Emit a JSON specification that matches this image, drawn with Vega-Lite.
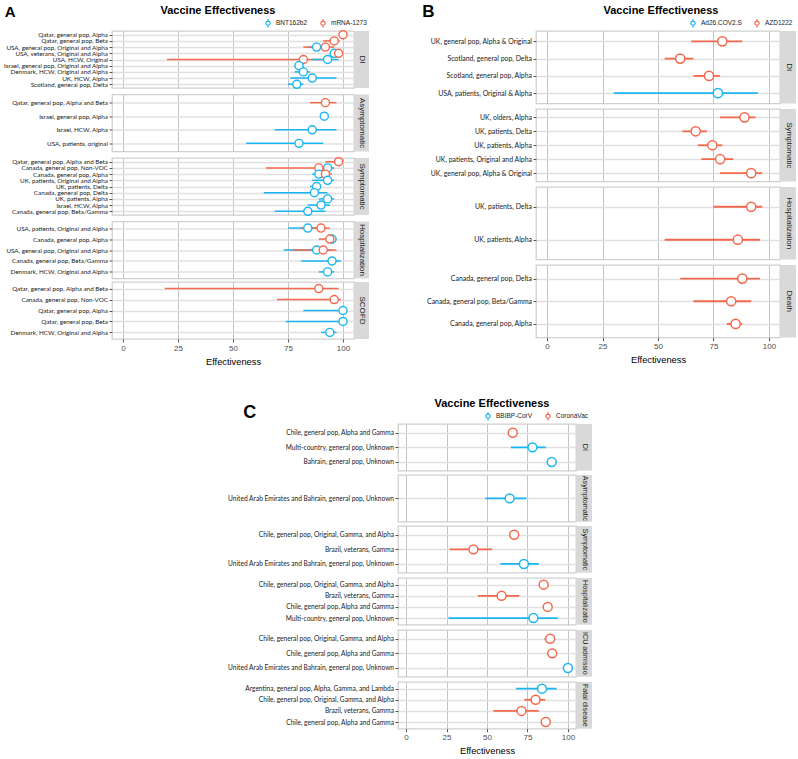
{
"$schema": "https://vega.github.io/schema/vega-lite/v6.json",
"background": "white",
"padding": {"left": 2, "top": 2, "right": 0, "bottom": 0},
"config": {
  "view": {"stroke": "#d0d0d0", "strokeWidth": 1.3},
  "axis": {"labelFont": "Liberation Sans", "titleFont": "Liberation Sans"},
  "title": {"font": "Liberation Sans", "fontSize": 11, "fontWeight": "bold", "color": "#000000"}
},
"datasets": {
  "A": [
    {"outcome": "DI", "label": "Qatar, general pop, Alpha", "vaccine": "mRNA-1273", "ve": 100, "lo": 99.5, "hi": 100},
    {"outcome": "DI", "label": "Qatar, general pop, Beta", "vaccine": "mRNA-1273", "ve": 96, "lo": 91, "hi": 98.5},
    {"outcome": "DI", "label": "USA, general pop, Original and Alpha", "vaccine": "BNT162b2", "ve": 88, "lo": 84, "hi": 91},
    {"outcome": "DI", "label": "USA, general pop, Original and Alpha", "vaccine": "mRNA-1273", "ve": 92, "lo": 82, "hi": 96},
    {"outcome": "DI", "label": "USA, veterans, Original and Alpha", "vaccine": "BNT162b2", "ve": 96, "lo": 95, "hi": 97},
    {"outcome": "DI", "label": "USA, veterans, Original and Alpha", "vaccine": "mRNA-1273", "ve": 98, "lo": 97, "hi": 99},
    {"outcome": "DI", "label": "USA, HCW, Original", "vaccine": "mRNA-1273", "ve": 82, "lo": 20, "hi": 95},
    {"outcome": "DI", "label": "USA, HCW, Original", "vaccine": "BNT162b2", "ve": 93, "lo": 86, "hi": 98},
    {"outcome": "DI", "label": "Israel, general pop, Original and Alpha", "vaccine": "BNT162b2", "ve": 80, "lo": 78, "hi": 82},
    {"outcome": "DI", "label": "Denmark, HCW, Original and Alpha", "vaccine": "BNT162b2", "ve": 82, "lo": 78, "hi": 85},
    {"outcome": "DI", "label": "UK, HCW, Alpha", "vaccine": "BNT162b2", "ve": 86, "lo": 76, "hi": 97},
    {"outcome": "DI", "label": "Scotland, general pop, Delta", "vaccine": "BNT162b2", "ve": 79, "lo": 75, "hi": 82},
    {"outcome": "Asymptomatic", "label": "Qatar, general pop, Alpha and Beta", "vaccine": "mRNA-1273", "ve": 92, "lo": 85, "hi": 97},
    {"outcome": "Asymptomatic", "label": "Israel, general pop, Alpha", "vaccine": "BNT162b2", "ve": 91.5, "lo": 90.5, "hi": 92.5},
    {"outcome": "Asymptomatic", "label": "Israel, HCW, Alpha", "vaccine": "BNT162b2", "ve": 86, "lo": 69, "hi": 97},
    {"outcome": "Asymptomatic", "label": "USA, patients, original", "vaccine": "BNT162b2", "ve": 80, "lo": 56, "hi": 91},
    {"outcome": "Symptomatic", "label": "Qatar, general pop, Alpha and Beta", "vaccine": "mRNA-1273", "ve": 98, "lo": 92, "hi": 99.5},
    {"outcome": "Symptomatic", "label": "Canada, general pop, Non-VOC", "vaccine": "mRNA-1273", "ve": 89, "lo": 65, "hi": 96},
    {"outcome": "Symptomatic", "label": "Canada, general pop, Non-VOC", "vaccine": "BNT162b2", "ve": 93, "lo": 90, "hi": 95.5},
    {"outcome": "Symptomatic", "label": "Canada, general pop, Alpha", "vaccine": "BNT162b2", "ve": 89, "lo": 86, "hi": 91},
    {"outcome": "Symptomatic", "label": "Canada, general pop, Alpha", "vaccine": "mRNA-1273", "ve": 92, "lo": 87, "hi": 95},
    {"outcome": "Symptomatic", "label": "UK, patients, Original and Alpha", "vaccine": "BNT162b2", "ve": 93, "lo": 86, "hi": 96},
    {"outcome": "Symptomatic", "label": "UK, patients, Delta", "vaccine": "BNT162b2", "ve": 88, "lo": 85, "hi": 90},
    {"outcome": "Symptomatic", "label": "Canada, general pop, Delta", "vaccine": "BNT162b2", "ve": 87, "lo": 64, "hi": 93},
    {"outcome": "Symptomatic", "label": "UK, patients, Alpha", "vaccine": "BNT162b2", "ve": 93, "lo": 89, "hi": 96},
    {"outcome": "Symptomatic", "label": "Israel, HCW, Alpha", "vaccine": "BNT162b2", "ve": 90, "lo": 84, "hi": 94},
    {"outcome": "Symptomatic", "label": "Canada, general pop, Beta/Gamma", "vaccine": "BNT162b2", "ve": 84, "lo": 69, "hi": 92},
    {"outcome": "Hospitalization", "label": "USA, patients, Original and Alpha", "vaccine": "BNT162b2", "ve": 84, "lo": 75, "hi": 90},
    {"outcome": "Hospitalization", "label": "USA, patients, Original and Alpha", "vaccine": "mRNA-1273", "ve": 90, "lo": 81, "hi": 94},
    {"outcome": "Hospitalization", "label": "Canada, general pop, Alpha", "vaccine": "BNT162b2", "ve": 95, "lo": 92, "hi": 97},
    {"outcome": "Hospitalization", "label": "Canada, general pop, Alpha", "vaccine": "mRNA-1273", "ve": 94, "lo": 89, "hi": 97},
    {"outcome": "Hospitalization", "label": "USA, general pop, Original and Alpha", "vaccine": "BNT162b2", "ve": 88, "lo": 73, "hi": 95},
    {"outcome": "Hospitalization", "label": "USA, general pop, Original and Alpha", "vaccine": "mRNA-1273", "ve": 91, "lo": 77, "hi": 97},
    {"outcome": "Hospitalization", "label": "Canada, general pop, Beta/Gamma", "vaccine": "BNT162b2", "ve": 95, "lo": 81, "hi": 99},
    {"outcome": "Hospitalization", "label": "Denmark, HCW, Original and Alpha", "vaccine": "BNT162b2", "ve": 93, "lo": 89, "hi": 96},
    {"outcome": "SCOFD", "label": "Qatar, general pop, Alpha and Beta", "vaccine": "mRNA-1273", "ve": 89, "lo": 19, "hi": 98},
    {"outcome": "SCOFD", "label": "Canada, general pop, Non-VOC", "vaccine": "mRNA-1273", "ve": 96, "lo": 70, "hi": 99},
    {"outcome": "SCOFD", "label": "Qatar, general pop, Alpha", "vaccine": "BNT162b2", "ve": 100, "lo": 82, "hi": 100},
    {"outcome": "SCOFD", "label": "Qatar, general pop, Beta", "vaccine": "BNT162b2", "ve": 100, "lo": 74, "hi": 100},
    {"outcome": "SCOFD", "label": "Denmark, HCW, Original and Alpha", "vaccine": "BNT162b2", "ve": 94, "lo": 90, "hi": 97}
  ],
  "B": [
    {"outcome": "DI", "label": "UK, general pop, Alpha & Original", "vaccine": "AZD1222", "ve": 79, "lo": 65, "hi": 88},
    {"outcome": "DI", "label": "Scotland, general pop, Delta", "vaccine": "AZD1222", "ve": 60, "lo": 53, "hi": 66},
    {"outcome": "DI", "label": "Scotland, general pop, Alpha", "vaccine": "AZD1222", "ve": 73, "lo": 66, "hi": 78},
    {"outcome": "DI", "label": "USA, patients, Original & Alpha", "vaccine": "Ad26.COV2.S", "ve": 77, "lo": 30, "hi": 95},
    {"outcome": "Symptomatic", "label": "UK, olders, Alpha", "vaccine": "AZD1222", "ve": 89, "lo": 78, "hi": 94},
    {"outcome": "Symptomatic", "label": "UK, patients, Delta", "vaccine": "AZD1222", "ve": 67, "lo": 61, "hi": 72},
    {"outcome": "Symptomatic", "label": "UK, patients, Alpha", "vaccine": "AZD1222", "ve": 74.5, "lo": 68, "hi": 79},
    {"outcome": "Symptomatic", "label": "UK, patients, Original and Alpha", "vaccine": "AZD1222", "ve": 78, "lo": 69.5, "hi": 84},
    {"outcome": "Symptomatic", "label": "UK, general pop, Alpha & Original", "vaccine": "AZD1222", "ve": 92, "lo": 78, "hi": 97},
    {"outcome": "Hospitalization", "label": "UK, patients, Delta", "vaccine": "AZD1222", "ve": 92, "lo": 75, "hi": 97},
    {"outcome": "Hospitalization", "label": "UK, patients, Alpha", "vaccine": "AZD1222", "ve": 86, "lo": 53, "hi": 96},
    {"outcome": "Death", "label": "Canada, general pop, Delta", "vaccine": "AZD1222", "ve": 88, "lo": 60, "hi": 96},
    {"outcome": "Death", "label": "Canada, general pop, Beta/Gamma", "vaccine": "AZD1222", "ve": 83, "lo": 66, "hi": 92},
    {"outcome": "Death", "label": "Canada, general pop, Alpha", "vaccine": "AZD1222", "ve": 85, "lo": 81, "hi": 88}
  ],
  "C": [
    {"outcome": "DI", "label": "Chile, general pop, Alpha and Gamma", "vaccine": "CoronaVac", "ve": 65.9, "lo": 65.2, "hi": 66.6},
    {"outcome": "DI", "label": "Multi-country, general pop, Unknown", "vaccine": "BBIBP-CorV", "ve": 78.1, "lo": 64.8, "hi": 86.3},
    {"outcome": "DI", "label": "Bahrain, general pop, Unknown", "vaccine": "BBIBP-CorV", "ve": 90, "lo": 88.9, "hi": 91},
    {"outcome": "Asymptomatic", "label": "United Arab Emirates and Bahrain, general pop, Unknown", "vaccine": "BBIBP-CorV", "ve": 64, "lo": 49, "hi": 74.4},
    {"outcome": "Symptomatic", "label": "Chile, general pop, Original, Gamma, and Alpha", "vaccine": "CoronaVac", "ve": 66.8, "lo": 65.4, "hi": 68.1},
    {"outcome": "Symptomatic", "label": "Brazil, veterans, Gamma", "vaccine": "CoronaVac", "ve": 41.6, "lo": 26.9, "hi": 53.2},
    {"outcome": "Symptomatic", "label": "United Arab Emirates and Bahrain, general pop, Unknown", "vaccine": "BBIBP-CorV", "ve": 72.8, "lo": 58.3, "hi": 82},
    {"outcome": "Hospitalization", "label": "Chile, general pop, Original, Gamma, and Alpha", "vaccine": "CoronaVac", "ve": 85, "lo": 84, "hi": 86},
    {"outcome": "Hospitalization", "label": "Brazil, veterans, Gamma", "vaccine": "CoronaVac", "ve": 59, "lo": 44.5, "hi": 70},
    {"outcome": "Hospitalization", "label": "Chile, general pop, Alpha and Gamma", "vaccine": "CoronaVac", "ve": 87.5, "lo": 86.7, "hi": 88.2},
    {"outcome": "Hospitalization", "label": "Multi-country, general pop, Unknown", "vaccine": "BBIBP-CorV", "ve": 78.7, "lo": 26.2, "hi": 93.7},
    {"outcome": "ICU admission", "label": "Chile, general pop, Original, Gamma, and Alpha", "vaccine": "CoronaVac", "ve": 89, "lo": 85.5, "hi": 91},
    {"outcome": "ICU admission", "label": "Chile, general pop, Alpha and Gamma", "vaccine": "CoronaVac", "ve": 90.3, "lo": 89.1, "hi": 91.4},
    {"outcome": "ICU admission", "label": "United Arab Emirates and Bahrain, general pop, Unknown", "vaccine": "BBIBP-CorV", "ve": 100, "lo": 100, "hi": 100},
    {"outcome": "Fatal disease", "label": "Argentina, general pop, Alpha, Gamma, and Lambda", "vaccine": "BBIBP-CorV", "ve": 84, "lo": 68, "hi": 93},
    {"outcome": "Fatal disease", "label": "Chile, general pop, Original, Gamma, and Alpha", "vaccine": "CoronaVac", "ve": 80, "lo": 73, "hi": 86},
    {"outcome": "Fatal disease", "label": "Brazil, veterans, Gamma", "vaccine": "CoronaVac", "ve": 71.3, "lo": 54, "hi": 82},
    {"outcome": "Fatal disease", "label": "Chile, general pop, Alpha and Gamma", "vaccine": "CoronaVac", "ve": 86.3, "lo": 85.1, "hi": 87.3}
  ]
},
"resolve": {"scale": {"color": "independent"}, "legend": {"color": "independent"}},
"spacing": 30,
"vconcat": [
{
  "spacing": 53,
  "resolve": {"scale": {"color": "independent"}, "legend": {"color": "independent"}},
  "hconcat": [
  {
    "title": {"text": "A", "anchor": "start", "frame": "bounds", "fontSize": 15, "offset": -16, "dx": 2},
    "spacing": 1.5,
    "resolve": {"scale": {"color": "independent"}, "legend": {"color": "independent"}},
    "vconcat": [
      {"spacing": 1, "bounds": "flush", "resolve": {"scale": {"color": "independent"}, "legend": {"color": "independent"}}, "hconcat": [
        {"width": 242, "height": 57, "data": {"name": "A"}, "transform": [{"filter": "datum.outcome === 'DI'"}],
         "title": {"text": "Vaccine Effectiveness", "anchor": "middle", "frame": "group", "offset": 2, "dx": -15},
         "encoding": {
           "y": {"field": "label", "type": "nominal", "sort": null, "scale": {"type": "point", "padding": 0.6}, "axis": {"title": null, "domain": false, "tickSize": 3, "tickColor": "#555555", "grid": true, "gridColor": "#e0e0e0", "gridWidth": 1.5, "labelFont": "Lato", "labelFontSize": 6.3, "labelColor": "#1a1a1a", "labelPadding": 1.5, "labelOverlap": false, "labelBound": false, "minExtent": 108, "maxExtent": 108}},
           "color": {"field": "vaccine", "type": "nominal", "scale": {"domain": ["BNT162b2", "mRNA-1273"], "range": ["#1BB5F0", "#F4694D"]}, "legend": {"orient": "top-right", "offset": -13, "direction": "horizontal", "title": null, "symbolType": "M0,-1V-0.5M0,0.5V1M-0.5,0A0.5,0.5,0,1,0,0.5,0A0.5,0.5,0,1,0,-0.5,0Z", "symbolSize": 70, "symbolStrokeWidth": 1.2, "symbolFillColor": "white", "labelFontSize": 6.5, "labelFont": "Liberation Sans", "labelColor": "#1a1a1a", "columnPadding": 10, "padding": 0, "labelOffset": 3}}
         },
         "layer": [
           {"mark": {"type": "rule", "strokeWidth": 1.5}, "encoding": {"x": {"field": "lo", "type": "quantitative", "scale": {"domain": [-5, 105], "nice": false, "zero": false}, "axis": {"values": [0,12.5,25,37.5,50,62.5,75,87.5,100], "labels": false, "ticks": false, "domain": false, "title": null, "grid": true, "gridWidth": 1, "gridColor": {"condition": {"test": "datum.value % 25 === 0", "value": "#c4c4c4"}, "value": "#e6e6e6"}}}, "x2": {"field": "hi"}}},
           {"mark": {"type": "point", "shape": "circle", "filled": false, "fill": "white", "fillOpacity": 1, "opacity": 1, "strokeWidth": 1.4, "size": 65}, "encoding": {"x": {"field": "ve", "type": "quantitative", "scale": {"domain": [-5, 105], "nice": false, "zero": false}}}}
         ]},
        {"width": 14, "height": 57, "view": {"fill": "#d9d9d9", "stroke": null}, "data": {"values": [{"strip": "DI"}]}, "mark": {"type": "text", "angle": 90, "font": "Liberation Sans", "fontSize": 8, "color": "#1a1a1a", "limit": 56, "ellipsis": " "}, "encoding": {"text": {"field": "strip", "type": "nominal"}}}
      ]},
      {"spacing": 1, "bounds": "flush", "resolve": {"scale": {"color": "independent"}, "legend": {"color": "independent"}}, "hconcat": [
        {"width": 242, "height": 57, "data": {"name": "A"}, "transform": [{"filter": "datum.outcome === 'Asymptomatic'"}],
         "encoding": {
           "y": {"field": "label", "type": "nominal", "sort": null, "scale": {"type": "point", "padding": 0.6}, "axis": {"title": null, "domain": false, "tickSize": 3, "tickColor": "#555555", "grid": true, "gridColor": "#e0e0e0", "gridWidth": 1.5, "labelFont": "Lato", "labelFontSize": 6.3, "labelColor": "#1a1a1a", "labelPadding": 1.5, "labelOverlap": false, "labelBound": false, "minExtent": 108, "maxExtent": 108}},
           "color": {"field": "vaccine", "type": "nominal", "scale": {"domain": ["BNT162b2", "mRNA-1273"], "range": ["#1BB5F0", "#F4694D"]}, "legend": null}
         },
         "layer": [
           {"mark": {"type": "rule", "strokeWidth": 1.5}, "encoding": {"x": {"field": "lo", "type": "quantitative", "scale": {"domain": [-5, 105], "nice": false, "zero": false}, "axis": {"values": [0,12.5,25,37.5,50,62.5,75,87.5,100], "labels": false, "ticks": false, "domain": false, "title": null, "grid": true, "gridWidth": 1, "gridColor": {"condition": {"test": "datum.value % 25 === 0", "value": "#c4c4c4"}, "value": "#e6e6e6"}}}, "x2": {"field": "hi"}}},
           {"mark": {"type": "point", "shape": "circle", "filled": false, "fill": "white", "fillOpacity": 1, "opacity": 1, "strokeWidth": 1.4, "size": 65}, "encoding": {"x": {"field": "ve", "type": "quantitative", "scale": {"domain": [-5, 105], "nice": false, "zero": false}}}}
         ]},
        {"width": 14, "height": 57, "view": {"fill": "#d9d9d9", "stroke": null}, "data": {"values": [{"strip": "Asymptomatic"}]}, "mark": {"type": "text", "angle": 90, "font": "Liberation Sans", "fontSize": 8, "color": "#1a1a1a", "limit": 56, "ellipsis": " "}, "encoding": {"text": {"field": "strip", "type": "nominal"}}}
      ]},
      {"spacing": 1, "bounds": "flush", "resolve": {"scale": {"color": "independent"}, "legend": {"color": "independent"}}, "hconcat": [
        {"width": 242, "height": 57, "data": {"name": "A"}, "transform": [{"filter": "datum.outcome === 'Symptomatic'"}],
         "encoding": {
           "y": {"field": "label", "type": "nominal", "sort": null, "scale": {"type": "point", "padding": 0.6}, "axis": {"title": null, "domain": false, "tickSize": 3, "tickColor": "#555555", "grid": true, "gridColor": "#e0e0e0", "gridWidth": 1.5, "labelFont": "Lato", "labelFontSize": 6.3, "labelColor": "#1a1a1a", "labelPadding": 1.5, "labelOverlap": false, "labelBound": false, "minExtent": 108, "maxExtent": 108}},
           "color": {"field": "vaccine", "type": "nominal", "scale": {"domain": ["BNT162b2", "mRNA-1273"], "range": ["#1BB5F0", "#F4694D"]}, "legend": null}
         },
         "layer": [
           {"mark": {"type": "rule", "strokeWidth": 1.5}, "encoding": {"x": {"field": "lo", "type": "quantitative", "scale": {"domain": [-5, 105], "nice": false, "zero": false}, "axis": {"values": [0,12.5,25,37.5,50,62.5,75,87.5,100], "labels": false, "ticks": false, "domain": false, "title": null, "grid": true, "gridWidth": 1, "gridColor": {"condition": {"test": "datum.value % 25 === 0", "value": "#c4c4c4"}, "value": "#e6e6e6"}}}, "x2": {"field": "hi"}}},
           {"mark": {"type": "point", "shape": "circle", "filled": false, "fill": "white", "fillOpacity": 1, "opacity": 1, "strokeWidth": 1.4, "size": 65}, "encoding": {"x": {"field": "ve", "type": "quantitative", "scale": {"domain": [-5, 105], "nice": false, "zero": false}}}}
         ]},
        {"width": 14, "height": 57, "view": {"fill": "#d9d9d9", "stroke": null}, "data": {"values": [{"strip": "Symptomatic"}]}, "mark": {"type": "text", "angle": 90, "font": "Liberation Sans", "fontSize": 8, "color": "#1a1a1a", "limit": 56, "ellipsis": " "}, "encoding": {"text": {"field": "strip", "type": "nominal"}}}
      ]},
      {"spacing": 1, "bounds": "flush", "resolve": {"scale": {"color": "independent"}, "legend": {"color": "independent"}}, "hconcat": [
        {"width": 242, "height": 57, "data": {"name": "A"}, "transform": [{"filter": "datum.outcome === 'Hospitalization'"}],
         "encoding": {
           "y": {"field": "label", "type": "nominal", "sort": null, "scale": {"type": "point", "padding": 0.6}, "axis": {"title": null, "domain": false, "tickSize": 3, "tickColor": "#555555", "grid": true, "gridColor": "#e0e0e0", "gridWidth": 1.5, "labelFont": "Lato", "labelFontSize": 6.3, "labelColor": "#1a1a1a", "labelPadding": 1.5, "labelOverlap": false, "labelBound": false, "minExtent": 108, "maxExtent": 108}},
           "color": {"field": "vaccine", "type": "nominal", "scale": {"domain": ["BNT162b2", "mRNA-1273"], "range": ["#1BB5F0", "#F4694D"]}, "legend": null}
         },
         "layer": [
           {"mark": {"type": "rule", "strokeWidth": 1.5}, "encoding": {"x": {"field": "lo", "type": "quantitative", "scale": {"domain": [-5, 105], "nice": false, "zero": false}, "axis": {"values": [0,12.5,25,37.5,50,62.5,75,87.5,100], "labels": false, "ticks": false, "domain": false, "title": null, "grid": true, "gridWidth": 1, "gridColor": {"condition": {"test": "datum.value % 25 === 0", "value": "#c4c4c4"}, "value": "#e6e6e6"}}}, "x2": {"field": "hi"}}},
           {"mark": {"type": "point", "shape": "circle", "filled": false, "fill": "white", "fillOpacity": 1, "opacity": 1, "strokeWidth": 1.4, "size": 65}, "encoding": {"x": {"field": "ve", "type": "quantitative", "scale": {"domain": [-5, 105], "nice": false, "zero": false}}}}
         ]},
        {"width": 14, "height": 57, "view": {"fill": "#d9d9d9", "stroke": null}, "data": {"values": [{"strip": "Hospitalization"}]}, "mark": {"type": "text", "angle": 90, "font": "Liberation Sans", "fontSize": 8, "color": "#1a1a1a", "limit": 56, "ellipsis": " "}, "encoding": {"text": {"field": "strip", "type": "nominal"}}}
      ]},
      {"spacing": 1, "bounds": "flush", "resolve": {"scale": {"color": "independent"}, "legend": {"color": "independent"}}, "hconcat": [
        {"width": 242, "height": 57, "data": {"name": "A"}, "transform": [{"filter": "datum.outcome === 'SCOFD'"}],
         "encoding": {
           "y": {"field": "label", "type": "nominal", "sort": null, "scale": {"type": "point", "padding": 0.6}, "axis": {"title": null, "domain": false, "tickSize": 3, "tickColor": "#555555", "grid": true, "gridColor": "#e0e0e0", "gridWidth": 1.5, "labelFont": "Lato", "labelFontSize": 6.3, "labelColor": "#1a1a1a", "labelPadding": 1.5, "labelOverlap": false, "labelBound": false, "minExtent": 108, "maxExtent": 108}},
           "color": {"field": "vaccine", "type": "nominal", "scale": {"domain": ["BNT162b2", "mRNA-1273"], "range": ["#1BB5F0", "#F4694D"]}, "legend": null}
         },
         "layer": [
           {"mark": {"type": "rule", "strokeWidth": 1.5}, "encoding": {"x": {"field": "lo", "type": "quantitative", "scale": {"domain": [-5, 105], "nice": false, "zero": false}, "axis": {"values": [0,12.5,25,37.5,50,62.5,75,87.5,100], "labels": true, "labelExpr": "datum.value % 25 === 0 ? datum.label : ''", "labelOverlap": false, "labelFontSize": 8, "labelColor": "#4d4d4d", "labelPadding": 2, "ticks": true, "tickSize": 3, "tickColor": {"condition": {"test": "datum.value % 25 === 0", "value": "#555555"}, "value": "transparent"}, "domain": false, "title": "Effectiveness", "titleFontSize": 9.3, "titleFontWeight": "normal", "titleColor": "#000000", "titlePadding": 5, "grid": true, "gridWidth": 1, "gridColor": {"condition": {"test": "datum.value % 25 === 0", "value": "#c4c4c4"}, "value": "#e6e6e6"}}}, "x2": {"field": "hi"}}},
           {"mark": {"type": "point", "shape": "circle", "filled": false, "fill": "white", "fillOpacity": 1, "opacity": 1, "strokeWidth": 1.4, "size": 65}, "encoding": {"x": {"field": "ve", "type": "quantitative", "scale": {"domain": [-5, 105], "nice": false, "zero": false}}}}
         ]},
        {"width": 14, "height": 57, "view": {"fill": "#d9d9d9", "stroke": null}, "data": {"values": [{"strip": "SCOFD"}]}, "mark": {"type": "text", "angle": 90, "font": "Liberation Sans", "fontSize": 8, "color": "#1a1a1a", "limit": 56, "ellipsis": " "}, "encoding": {"text": {"field": "strip", "type": "nominal"}}}
      ]}
    ]
  },
  {
    "title": {"text": "B", "anchor": "start", "frame": "bounds", "fontSize": 17, "offset": -16.5, "dx": -3},
    "spacing": 3,
    "resolve": {"scale": {"color": "independent"}, "legend": {"color": "independent"}},
    "vconcat": [
      {"spacing": 1, "bounds": "flush", "resolve": {"scale": {"color": "independent"}, "legend": {"color": "independent"}}, "hconcat": [
        {"width": 244, "height": 72.5, "data": {"name": "B"}, "transform": [{"filter": "datum.outcome === 'DI'"}],
         "title": {"text": "Vaccine Effectiveness", "anchor": "middle", "frame": "group", "offset": 2, "dx": 3},
         "encoding": {
           "y": {"field": "label", "type": "nominal", "sort": null, "scale": {"type": "point", "padding": 0.6}, "axis": {"title": null, "domain": false, "tickSize": 3, "tickColor": "#555555", "grid": true, "gridColor": "#e0e0e0", "gridWidth": 1.5, "labelFont": "Lato", "labelFontSize": 6.9, "labelColor": "#1a1a1a", "labelPadding": 1.5, "labelOverlap": false, "labelBound": false, "minExtent": 110, "maxExtent": 110}},
           "color": {"field": "vaccine", "type": "nominal", "scale": {"domain": ["Ad26.COV2.S", "AZD1222"], "range": ["#1BB5F0", "#F4694D"]}, "legend": {"orient": "top-right", "offset": -13, "direction": "horizontal", "title": null, "symbolType": "M0,-1V-0.5M0,0.5V1M-0.5,0A0.5,0.5,0,1,0,0.5,0A0.5,0.5,0,1,0,-0.5,0Z", "symbolSize": 70, "symbolStrokeWidth": 1.2, "symbolFillColor": "white", "labelFontSize": 6.5, "labelFont": "Liberation Sans", "labelColor": "#1a1a1a", "columnPadding": 10, "padding": 0, "labelOffset": 3}}
         },
         "layer": [
           {"mark": {"type": "rule", "strokeWidth": 1.8}, "encoding": {"x": {"field": "lo", "type": "quantitative", "scale": {"domain": [-5, 105], "nice": false, "zero": false}, "axis": {"values": [0,12.5,25,37.5,50,62.5,75,87.5,100], "labels": false, "ticks": false, "domain": false, "title": null, "grid": true, "gridWidth": 1, "gridColor": {"condition": {"test": "datum.value % 25 === 0", "value": "#c4c4c4"}, "value": "#e6e6e6"}}}, "x2": {"field": "hi"}}},
           {"mark": {"type": "point", "shape": "circle", "filled": false, "fill": "white", "fillOpacity": 1, "opacity": 1, "strokeWidth": 1.5, "size": 85}, "encoding": {"x": {"field": "ve", "type": "quantitative", "scale": {"domain": [-5, 105], "nice": false, "zero": false}}}}
         ]},
        {"width": 15, "height": 72.5, "view": {"fill": "#d9d9d9", "stroke": null}, "data": {"values": [{"strip": "DI"}]}, "mark": {"type": "text", "angle": 90, "font": "Liberation Sans", "fontSize": 8, "color": "#1a1a1a", "limit": 72, "ellipsis": " "}, "encoding": {"text": {"field": "strip", "type": "nominal"}}}
      ]},
      {"spacing": 1, "bounds": "flush", "resolve": {"scale": {"color": "independent"}, "legend": {"color": "independent"}}, "hconcat": [
        {"width": 244, "height": 72.5, "data": {"name": "B"}, "transform": [{"filter": "datum.outcome === 'Symptomatic'"}],
         "encoding": {
           "y": {"field": "label", "type": "nominal", "sort": null, "scale": {"type": "point", "padding": 0.6}, "axis": {"title": null, "domain": false, "tickSize": 3, "tickColor": "#555555", "grid": true, "gridColor": "#e0e0e0", "gridWidth": 1.5, "labelFont": "Lato", "labelFontSize": 6.9, "labelColor": "#1a1a1a", "labelPadding": 1.5, "labelOverlap": false, "labelBound": false, "minExtent": 110, "maxExtent": 110}},
           "color": {"field": "vaccine", "type": "nominal", "scale": {"domain": ["Ad26.COV2.S", "AZD1222"], "range": ["#1BB5F0", "#F4694D"]}, "legend": null}
         },
         "layer": [
           {"mark": {"type": "rule", "strokeWidth": 1.8}, "encoding": {"x": {"field": "lo", "type": "quantitative", "scale": {"domain": [-5, 105], "nice": false, "zero": false}, "axis": {"values": [0,12.5,25,37.5,50,62.5,75,87.5,100], "labels": false, "ticks": false, "domain": false, "title": null, "grid": true, "gridWidth": 1, "gridColor": {"condition": {"test": "datum.value % 25 === 0", "value": "#c4c4c4"}, "value": "#e6e6e6"}}}, "x2": {"field": "hi"}}},
           {"mark": {"type": "point", "shape": "circle", "filled": false, "fill": "white", "fillOpacity": 1, "opacity": 1, "strokeWidth": 1.5, "size": 85}, "encoding": {"x": {"field": "ve", "type": "quantitative", "scale": {"domain": [-5, 105], "nice": false, "zero": false}}}}
         ]},
        {"width": 15, "height": 72.5, "view": {"fill": "#d9d9d9", "stroke": null}, "data": {"values": [{"strip": "Symptomatic"}]}, "mark": {"type": "text", "angle": 90, "font": "Liberation Sans", "fontSize": 8, "color": "#1a1a1a", "limit": 72, "ellipsis": " "}, "encoding": {"text": {"field": "strip", "type": "nominal"}}}
      ]},
      {"spacing": 1, "bounds": "flush", "resolve": {"scale": {"color": "independent"}, "legend": {"color": "independent"}}, "hconcat": [
        {"width": 244, "height": 72.5, "data": {"name": "B"}, "transform": [{"filter": "datum.outcome === 'Hospitalization'"}],
         "encoding": {
           "y": {"field": "label", "type": "nominal", "sort": null, "scale": {"type": "point", "padding": 0.6}, "axis": {"title": null, "domain": false, "tickSize": 3, "tickColor": "#555555", "grid": true, "gridColor": "#e0e0e0", "gridWidth": 1.5, "labelFont": "Lato", "labelFontSize": 6.9, "labelColor": "#1a1a1a", "labelPadding": 1.5, "labelOverlap": false, "labelBound": false, "minExtent": 110, "maxExtent": 110}},
           "color": {"field": "vaccine", "type": "nominal", "scale": {"domain": ["Ad26.COV2.S", "AZD1222"], "range": ["#1BB5F0", "#F4694D"]}, "legend": null}
         },
         "layer": [
           {"mark": {"type": "rule", "strokeWidth": 1.8}, "encoding": {"x": {"field": "lo", "type": "quantitative", "scale": {"domain": [-5, 105], "nice": false, "zero": false}, "axis": {"values": [0,12.5,25,37.5,50,62.5,75,87.5,100], "labels": false, "ticks": false, "domain": false, "title": null, "grid": true, "gridWidth": 1, "gridColor": {"condition": {"test": "datum.value % 25 === 0", "value": "#c4c4c4"}, "value": "#e6e6e6"}}}, "x2": {"field": "hi"}}},
           {"mark": {"type": "point", "shape": "circle", "filled": false, "fill": "white", "fillOpacity": 1, "opacity": 1, "strokeWidth": 1.5, "size": 85}, "encoding": {"x": {"field": "ve", "type": "quantitative", "scale": {"domain": [-5, 105], "nice": false, "zero": false}}}}
         ]},
        {"width": 15, "height": 72.5, "view": {"fill": "#d9d9d9", "stroke": null}, "data": {"values": [{"strip": "Hospitalization"}]}, "mark": {"type": "text", "angle": 90, "font": "Liberation Sans", "fontSize": 8, "color": "#1a1a1a", "limit": 72, "ellipsis": " "}, "encoding": {"text": {"field": "strip", "type": "nominal"}}}
      ]},
      {"spacing": 1, "bounds": "flush", "resolve": {"scale": {"color": "independent"}, "legend": {"color": "independent"}}, "hconcat": [
        {"width": 244, "height": 72.5, "data": {"name": "B"}, "transform": [{"filter": "datum.outcome === 'Death'"}],
         "encoding": {
           "y": {"field": "label", "type": "nominal", "sort": null, "scale": {"type": "point", "padding": 0.6}, "axis": {"title": null, "domain": false, "tickSize": 3, "tickColor": "#555555", "grid": true, "gridColor": "#e0e0e0", "gridWidth": 1.5, "labelFont": "Lato", "labelFontSize": 6.9, "labelColor": "#1a1a1a", "labelPadding": 1.5, "labelOverlap": false, "labelBound": false, "minExtent": 110, "maxExtent": 110}},
           "color": {"field": "vaccine", "type": "nominal", "scale": {"domain": ["Ad26.COV2.S", "AZD1222"], "range": ["#1BB5F0", "#F4694D"]}, "legend": null}
         },
         "layer": [
           {"mark": {"type": "rule", "strokeWidth": 1.8}, "encoding": {"x": {"field": "lo", "type": "quantitative", "scale": {"domain": [-5, 105], "nice": false, "zero": false}, "axis": {"values": [0,12.5,25,37.5,50,62.5,75,87.5,100], "labels": true, "labelExpr": "datum.value % 25 === 0 ? datum.label : ''", "labelOverlap": false, "labelFontSize": 8, "labelColor": "#4d4d4d", "labelPadding": 2, "ticks": true, "tickSize": 3, "tickColor": {"condition": {"test": "datum.value % 25 === 0", "value": "#555555"}, "value": "transparent"}, "domain": false, "title": "Effectiveness", "titleFontSize": 9.3, "titleFontWeight": "normal", "titleColor": "#000000", "titlePadding": 5, "grid": true, "gridWidth": 1, "gridColor": {"condition": {"test": "datum.value % 25 === 0", "value": "#c4c4c4"}, "value": "#e6e6e6"}}}, "x2": {"field": "hi"}}},
           {"mark": {"type": "point", "shape": "circle", "filled": false, "fill": "white", "fillOpacity": 1, "opacity": 1, "strokeWidth": 1.5, "size": 85}, "encoding": {"x": {"field": "ve", "type": "quantitative", "scale": {"domain": [-5, 105], "nice": false, "zero": false}}}}
         ]},
        {"width": 15, "height": 72.5, "view": {"fill": "#d9d9d9", "stroke": null}, "data": {"values": [{"strip": "Death"}]}, "mark": {"type": "text", "angle": 90, "font": "Liberation Sans", "fontSize": 8, "color": "#1a1a1a", "limit": 72, "ellipsis": " "}, "encoding": {"text": {"field": "strip", "type": "nominal"}}}
      ]}
    ]
  }
  ]
},
{
  "spacing": 20,
  "resolve": {"scale": {"color": "independent"}, "legend": {"color": "independent"}},
  "hconcat": [
  {"width": 90, "height": 10, "data": {"values": []}, "mark": "point", "view": {"stroke": null}},
  {
  "title": {"text": "C", "anchor": "start", "frame": "bounds", "fontSize": 18, "offset": -25, "dx": 21},
  "spacing": 2,
  "resolve": {"scale": {"color": "independent"}, "legend": {"color": "independent"}},
  "vconcat": [
    {"spacing": 1, "bounds": "flush", "resolve": {"scale": {"color": "independent"}, "legend": {"color": "independent"}}, "hconcat": [
      {"width": 178, "height": 46.7, "data": {"name": "C"}, "transform": [{"filter": "datum.outcome === 'DI'"}],
       "title": {"text": "Vaccine Effectiveness", "anchor": "middle", "frame": "group", "offset": 2, "dx": 5},
       "encoding": {
         "y": {"field": "label", "type": "nominal", "sort": null, "scale": {"type": "point", "padding": 0.6}, "axis": {"title": null, "domain": false, "tickSize": 3, "tickColor": "#555555", "grid": true, "gridColor": "#e0e0e0", "gridWidth": 1.5, "labelFont": "Lato", "labelFontSize": 6.6, "labelColor": "#1a1a1a", "labelPadding": 1.5, "labelOverlap": false, "labelBound": false, "minExtent": 175, "maxExtent": 175}},
         "color": {"field": "vaccine", "type": "nominal", "scale": {"domain": ["BBIBP-CorV", "CoronaVac"], "range": ["#1BB5F0", "#F4694D"]}, "legend": {"orient": "top-right", "offset": -13, "direction": "horizontal", "title": null, "symbolType": "M0,-1V-0.5M0,0.5V1M-0.5,0A0.5,0.5,0,1,0,0.5,0A0.5,0.5,0,1,0,-0.5,0Z", "symbolSize": 70, "symbolStrokeWidth": 1.2, "symbolFillColor": "white", "labelFontSize": 6.5, "labelFont": "Liberation Sans", "labelColor": "#1a1a1a", "columnPadding": 10, "padding": 0, "labelOffset": 3}}
       },
       "layer": [
         {"mark": {"type": "rule", "strokeWidth": 1.8}, "encoding": {"x": {"field": "lo", "type": "quantitative", "scale": {"domain": [-5, 105], "nice": false, "zero": false}, "axis": {"values": [0,12.5,25,37.5,50,62.5,75,87.5,100], "labels": false, "ticks": false, "domain": false, "title": null, "grid": true, "gridWidth": 1, "gridColor": {"condition": {"test": "datum.value % 25 === 0", "value": "#c4c4c4"}, "value": "#e6e6e6"}}}, "x2": {"field": "hi"}}},
         {"mark": {"type": "point", "shape": "circle", "filled": false, "fill": "white", "fillOpacity": 1, "opacity": 1, "strokeWidth": 1.5, "size": 80}, "encoding": {"x": {"field": "ve", "type": "quantitative", "scale": {"domain": [-5, 105], "nice": false, "zero": false}}}}
       ]},
      {"width": 15, "height": 46.7, "view": {"fill": "#d9d9d9", "stroke": null}, "data": {"values": [{"strip": "DI"}]}, "mark": {"type": "text", "angle": 90, "font": "Liberation Sans", "fontSize": 7.2, "color": "#1a1a1a", "limit": 46, "ellipsis": " "}, "encoding": {"text": {"field": "strip", "type": "nominal"}}}
    ]},
    {"spacing": 1, "bounds": "flush", "resolve": {"scale": {"color": "independent"}, "legend": {"color": "independent"}}, "hconcat": [
      {"width": 178, "height": 46.7, "data": {"name": "C"}, "transform": [{"filter": "datum.outcome === 'Asymptomatic'"}],
       "encoding": {
         "y": {"field": "label", "type": "nominal", "sort": null, "scale": {"type": "point", "padding": 0.6}, "axis": {"title": null, "domain": false, "tickSize": 3, "tickColor": "#555555", "grid": true, "gridColor": "#e0e0e0", "gridWidth": 1.5, "labelFont": "Lato", "labelFontSize": 6.6, "labelColor": "#1a1a1a", "labelPadding": 1.5, "labelOverlap": false, "labelBound": false, "minExtent": 175, "maxExtent": 175}},
         "color": {"field": "vaccine", "type": "nominal", "scale": {"domain": ["BBIBP-CorV", "CoronaVac"], "range": ["#1BB5F0", "#F4694D"]}, "legend": null}
       },
       "layer": [
         {"mark": {"type": "rule", "strokeWidth": 1.8}, "encoding": {"x": {"field": "lo", "type": "quantitative", "scale": {"domain": [-5, 105], "nice": false, "zero": false}, "axis": {"values": [0,12.5,25,37.5,50,62.5,75,87.5,100], "labels": false, "ticks": false, "domain": false, "title": null, "grid": true, "gridWidth": 1, "gridColor": {"condition": {"test": "datum.value % 25 === 0", "value": "#c4c4c4"}, "value": "#e6e6e6"}}}, "x2": {"field": "hi"}}},
         {"mark": {"type": "point", "shape": "circle", "filled": false, "fill": "white", "fillOpacity": 1, "opacity": 1, "strokeWidth": 1.5, "size": 80}, "encoding": {"x": {"field": "ve", "type": "quantitative", "scale": {"domain": [-5, 105], "nice": false, "zero": false}}}}
       ]},
      {"width": 15, "height": 46.7, "view": {"fill": "#d9d9d9", "stroke": null}, "data": {"values": [{"strip": "Asymptomatic"}]}, "mark": {"type": "text", "angle": 90, "font": "Liberation Sans", "fontSize": 7.2, "color": "#1a1a1a", "limit": 46, "ellipsis": " "}, "encoding": {"text": {"field": "strip", "type": "nominal"}}}
    ]},
    {"spacing": 1, "bounds": "flush", "resolve": {"scale": {"color": "independent"}, "legend": {"color": "independent"}}, "hconcat": [
      {"width": 178, "height": 46.7, "data": {"name": "C"}, "transform": [{"filter": "datum.outcome === 'Symptomatic'"}],
       "encoding": {
         "y": {"field": "label", "type": "nominal", "sort": null, "scale": {"type": "point", "padding": 0.6}, "axis": {"title": null, "domain": false, "tickSize": 3, "tickColor": "#555555", "grid": true, "gridColor": "#e0e0e0", "gridWidth": 1.5, "labelFont": "Lato", "labelFontSize": 6.6, "labelColor": "#1a1a1a", "labelPadding": 1.5, "labelOverlap": false, "labelBound": false, "minExtent": 175, "maxExtent": 175}},
         "color": {"field": "vaccine", "type": "nominal", "scale": {"domain": ["BBIBP-CorV", "CoronaVac"], "range": ["#1BB5F0", "#F4694D"]}, "legend": null}
       },
       "layer": [
         {"mark": {"type": "rule", "strokeWidth": 1.8}, "encoding": {"x": {"field": "lo", "type": "quantitative", "scale": {"domain": [-5, 105], "nice": false, "zero": false}, "axis": {"values": [0,12.5,25,37.5,50,62.5,75,87.5,100], "labels": false, "ticks": false, "domain": false, "title": null, "grid": true, "gridWidth": 1, "gridColor": {"condition": {"test": "datum.value % 25 === 0", "value": "#c4c4c4"}, "value": "#e6e6e6"}}}, "x2": {"field": "hi"}}},
         {"mark": {"type": "point", "shape": "circle", "filled": false, "fill": "white", "fillOpacity": 1, "opacity": 1, "strokeWidth": 1.5, "size": 80}, "encoding": {"x": {"field": "ve", "type": "quantitative", "scale": {"domain": [-5, 105], "nice": false, "zero": false}}}}
       ]},
      {"width": 15, "height": 46.7, "view": {"fill": "#d9d9d9", "stroke": null}, "data": {"values": [{"strip": "Symptomatic"}]}, "mark": {"type": "text", "angle": 90, "font": "Liberation Sans", "fontSize": 7.2, "color": "#1a1a1a", "limit": 46, "ellipsis": " "}, "encoding": {"text": {"field": "strip", "type": "nominal"}}}
    ]},
    {"spacing": 1, "bounds": "flush", "resolve": {"scale": {"color": "independent"}, "legend": {"color": "independent"}}, "hconcat": [
      {"width": 178, "height": 46.7, "data": {"name": "C"}, "transform": [{"filter": "datum.outcome === 'Hospitalization'"}],
       "encoding": {
         "y": {"field": "label", "type": "nominal", "sort": null, "scale": {"type": "point", "padding": 0.6}, "axis": {"title": null, "domain": false, "tickSize": 3, "tickColor": "#555555", "grid": true, "gridColor": "#e0e0e0", "gridWidth": 1.5, "labelFont": "Lato", "labelFontSize": 6.6, "labelColor": "#1a1a1a", "labelPadding": 1.5, "labelOverlap": false, "labelBound": false, "minExtent": 175, "maxExtent": 175}},
         "color": {"field": "vaccine", "type": "nominal", "scale": {"domain": ["BBIBP-CorV", "CoronaVac"], "range": ["#1BB5F0", "#F4694D"]}, "legend": null}
       },
       "layer": [
         {"mark": {"type": "rule", "strokeWidth": 1.8}, "encoding": {"x": {"field": "lo", "type": "quantitative", "scale": {"domain": [-5, 105], "nice": false, "zero": false}, "axis": {"values": [0,12.5,25,37.5,50,62.5,75,87.5,100], "labels": false, "ticks": false, "domain": false, "title": null, "grid": true, "gridWidth": 1, "gridColor": {"condition": {"test": "datum.value % 25 === 0", "value": "#c4c4c4"}, "value": "#e6e6e6"}}}, "x2": {"field": "hi"}}},
         {"mark": {"type": "point", "shape": "circle", "filled": false, "fill": "white", "fillOpacity": 1, "opacity": 1, "strokeWidth": 1.5, "size": 80}, "encoding": {"x": {"field": "ve", "type": "quantitative", "scale": {"domain": [-5, 105], "nice": false, "zero": false}}}}
       ]},
      {"width": 15, "height": 46.7, "view": {"fill": "#d9d9d9", "stroke": null}, "data": {"values": [{"strip": "Hospitalization"}]}, "mark": {"type": "text", "angle": 90, "font": "Liberation Sans", "fontSize": 7.2, "color": "#1a1a1a", "limit": 46, "ellipsis": " "}, "encoding": {"text": {"field": "strip", "type": "nominal"}}}
    ]},
    {"spacing": 1, "bounds": "flush", "resolve": {"scale": {"color": "independent"}, "legend": {"color": "independent"}}, "hconcat": [
      {"width": 178, "height": 46.7, "data": {"name": "C"}, "transform": [{"filter": "datum.outcome === 'ICU admission'"}],
       "encoding": {
         "y": {"field": "label", "type": "nominal", "sort": null, "scale": {"type": "point", "padding": 0.6}, "axis": {"title": null, "domain": false, "tickSize": 3, "tickColor": "#555555", "grid": true, "gridColor": "#e0e0e0", "gridWidth": 1.5, "labelFont": "Lato", "labelFontSize": 6.6, "labelColor": "#1a1a1a", "labelPadding": 1.5, "labelOverlap": false, "labelBound": false, "minExtent": 175, "maxExtent": 175}},
         "color": {"field": "vaccine", "type": "nominal", "scale": {"domain": ["BBIBP-CorV", "CoronaVac"], "range": ["#1BB5F0", "#F4694D"]}, "legend": null}
       },
       "layer": [
         {"mark": {"type": "rule", "strokeWidth": 1.8}, "encoding": {"x": {"field": "lo", "type": "quantitative", "scale": {"domain": [-5, 105], "nice": false, "zero": false}, "axis": {"values": [0,12.5,25,37.5,50,62.5,75,87.5,100], "labels": false, "ticks": false, "domain": false, "title": null, "grid": true, "gridWidth": 1, "gridColor": {"condition": {"test": "datum.value % 25 === 0", "value": "#c4c4c4"}, "value": "#e6e6e6"}}}, "x2": {"field": "hi"}}},
         {"mark": {"type": "point", "shape": "circle", "filled": false, "fill": "white", "fillOpacity": 1, "opacity": 1, "strokeWidth": 1.5, "size": 80}, "encoding": {"x": {"field": "ve", "type": "quantitative", "scale": {"domain": [-5, 105], "nice": false, "zero": false}}}}
       ]},
      {"width": 15, "height": 46.7, "view": {"fill": "#d9d9d9", "stroke": null}, "data": {"values": [{"strip": "ICU admission"}]}, "mark": {"type": "text", "angle": 90, "font": "Liberation Sans", "fontSize": 7.2, "color": "#1a1a1a", "limit": 46, "ellipsis": " "}, "encoding": {"text": {"field": "strip", "type": "nominal"}}}
    ]},
    {"spacing": 1, "bounds": "flush", "resolve": {"scale": {"color": "independent"}, "legend": {"color": "independent"}}, "hconcat": [
      {"width": 178, "height": 46.7, "data": {"name": "C"}, "transform": [{"filter": "datum.outcome === 'Fatal disease'"}],
       "encoding": {
         "y": {"field": "label", "type": "nominal", "sort": null, "scale": {"type": "point", "padding": 0.6}, "axis": {"title": null, "domain": false, "tickSize": 3, "tickColor": "#555555", "grid": true, "gridColor": "#e0e0e0", "gridWidth": 1.5, "labelFont": "Lato", "labelFontSize": 6.6, "labelColor": "#1a1a1a", "labelPadding": 1.5, "labelOverlap": false, "labelBound": false, "minExtent": 175, "maxExtent": 175}},
         "color": {"field": "vaccine", "type": "nominal", "scale": {"domain": ["BBIBP-CorV", "CoronaVac"], "range": ["#1BB5F0", "#F4694D"]}, "legend": null}
       },
       "layer": [
         {"mark": {"type": "rule", "strokeWidth": 1.8}, "encoding": {"x": {"field": "lo", "type": "quantitative", "scale": {"domain": [-5, 105], "nice": false, "zero": false}, "axis": {"values": [0,12.5,25,37.5,50,62.5,75,87.5,100], "labels": true, "labelExpr": "datum.value % 25 === 0 ? datum.label : ''", "labelOverlap": false, "labelFontSize": 8, "labelColor": "#4d4d4d", "labelPadding": 2, "ticks": true, "tickSize": 3, "tickColor": {"condition": {"test": "datum.value % 25 === 0", "value": "#555555"}, "value": "transparent"}, "domain": false, "title": "Effectiveness", "titleFontSize": 9.3, "titleFontWeight": "normal", "titleColor": "#000000", "titlePadding": 5, "grid": true, "gridWidth": 1, "gridColor": {"condition": {"test": "datum.value % 25 === 0", "value": "#c4c4c4"}, "value": "#e6e6e6"}}}, "x2": {"field": "hi"}}},
         {"mark": {"type": "point", "shape": "circle", "filled": false, "fill": "white", "fillOpacity": 1, "opacity": 1, "strokeWidth": 1.5, "size": 80}, "encoding": {"x": {"field": "ve", "type": "quantitative", "scale": {"domain": [-5, 105], "nice": false, "zero": false}}}}
       ]},
      {"width": 15, "height": 46.7, "view": {"fill": "#d9d9d9", "stroke": null}, "data": {"values": [{"strip": "Fatal disease"}]}, "mark": {"type": "text", "angle": 90, "font": "Liberation Sans", "fontSize": 7.2, "color": "#1a1a1a", "limit": 46, "ellipsis": " "}, "encoding": {"text": {"field": "strip", "type": "nominal"}}}
    ]}
  ]
  }
  ]
}
]
}
